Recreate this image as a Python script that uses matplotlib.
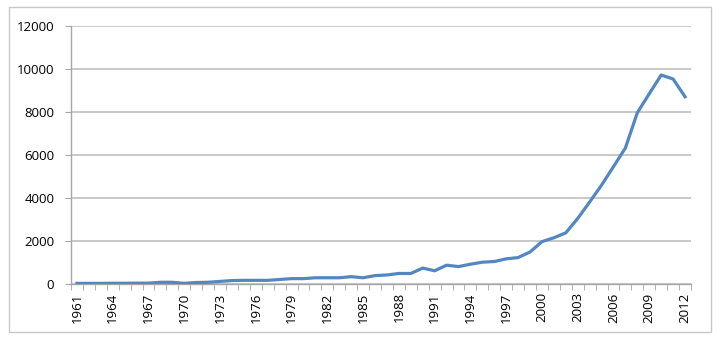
import matplotlib.pyplot as plt
import numpy as np
from matplotlib.patches import Rectangle

# Datos (1961-2012)
anios = list(range(1961, 2013))
valores = [30, 30, 30, 35, 35, 40, 40, 80, 80, 30,
           70, 80, 120, 160, 170, 170, 170, 210, 250, 250,
           290, 290, 290, 340, 290, 390, 420, 490, 490, 740,
           615, 875, 810, 920, 1015, 1045, 1170, 1230, 1490, 1970,
           2150, 2380, 3050, 3815, 4600, 5460, 6330, 7970, 8850, 9720,
           9535, 8710]
etiquetas = anios[::3]

plt.rcParams['font.family'] = ['Open Sans', 'DejaVu Sans']

fig = plt.figure(figsize=(7.22, 3.45), dpi=100)
ax = fig.add_axes([71/722, 1 - 284/345, 620/722, 258/345])

# marco del gráfico
fig.patches.append(Rectangle((9/722, 1 - 332/345), 702/722, 325/345,
                             transform=fig.transFigure, fill=False,
                             edgecolor='#C8C8C8', linewidth=1.0))

ax.plot(anios, valores, color='#5387C2', linewidth=2.3, solid_joinstyle='round', zorder=3)

ax.set_ylim(0, 12000)
ax.set_yticks(range(0, 12001, 2000))
ax.set_xlim(1960.5, 2012.5)
ax.set_xticks(etiquetas)
ax.set_xticklabels([str(a) for a in etiquetas], rotation=90)
ax.set_xticks(np.arange(1960.5, 2013, 1), minor=True)

ax.grid(axis='y', color='#BFBFBF', linewidth=1.2)
ax.set_axisbelow(True)
for lado in ['top', 'right']:
    ax.spines[lado].set_visible(False)
for lado in ['left', 'bottom']:
    ax.spines[lado].set_color('#A6A6A6')
    ax.spines[lado].set_linewidth(1.0)

ax.tick_params(axis='x', which='major', length=0, pad=6, labelsize=9.5)
ax.tick_params(axis='x', which='minor', length=4, color='#A6A6A6', direction='out')
ax.tick_params(axis='y', length=4, color='#A6A6A6', labelsize=9.5, pad=8)

fig.savefig('out.png', dpi=100)
